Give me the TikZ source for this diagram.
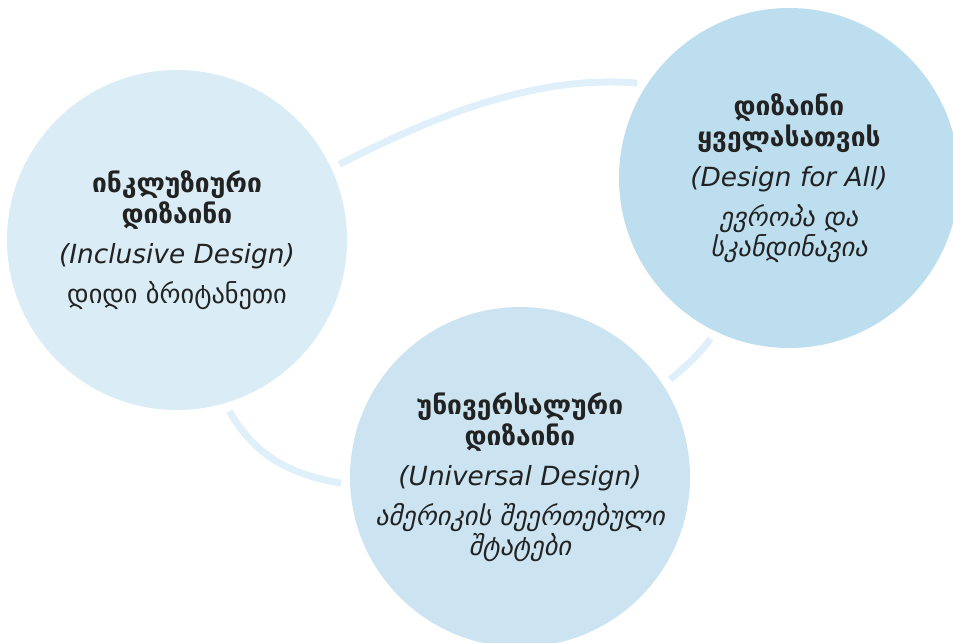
\documentclass[tikz,border=0pt]{standalone}
\usepackage{fontspec}
\setmainfont{DejaVu Sans}
\usepackage{xcolor}
\usetikzlibrary{calc,positioning}

\definecolor{incfill}{RGB}{218,236,245}
\definecolor{dfafill}{RGB}{189,222,238}
\definecolor{udfill}{RGB}{204,228,241}
\definecolor{linkcol}{RGB}{223,240,250}
\definecolor{txt}{RGB}{34,34,34}

\begin{document}
\begin{tikzpicture}[
    x=1.0cm,
    y=1.0cm,
    approach/.style={circle, minimum size=6.8cm, inner sep=0pt,
        outer sep=0.18cm, align=center, text=txt,
        font=\fontsize{15}{17}\selectfont},
    link/.style={draw=linkcol, line width=0.14cm}
]

\useasboundingbox (0,0) rectangle (19.06,12.84);

% ---------------------------------------------------------
% Design approaches
% ---------------------------------------------------------

\node[approach, fill=incfill] (inc) at (3.54,8.04)
    {{\bfseries ინკლუზიური}\\[0.6pt]
     {\bfseries დიზაინი}\\[5.7pt]
     {\itshape (Inclusive Design)}\\[5.7pt]
     დიდი ბრიტანეთი};

\node[approach, fill=dfafill] (dfa) at (15.78,9.28)
    {{\bfseries დიზაინი}\\[0.6pt]
     {\bfseries ყველასათვის}\\[5.7pt]
     {\itshape (Design for All)}\\[5.7pt]
     {\itshape ევროპა და}\\
     {\itshape სკანდინავია}};

\node[approach, fill=udfill] (ud) at (10.40,3.30)
    {{\bfseries უნივერსალური}\\[0.6pt]
     {\bfseries დიზაინი}\\[5.7pt]
     {\itshape (Universal Design)}\\[5.7pt]
     {\itshape ამერიკის შეერთებული}\\
     {\itshape შტატები}};

% ---------------------------------------------------------
% Links between approaches
% ---------------------------------------------------------

\draw[link] (inc.25) to[out=27,in=175,looseness=0.85] (dfa.148);

\draw[link] (inc.-73) to[out=-60,in=170] (ud.182);

\draw[link] (dfa.244) to[out=232,in=40] (ud.33);

\end{tikzpicture}
\end{document}
